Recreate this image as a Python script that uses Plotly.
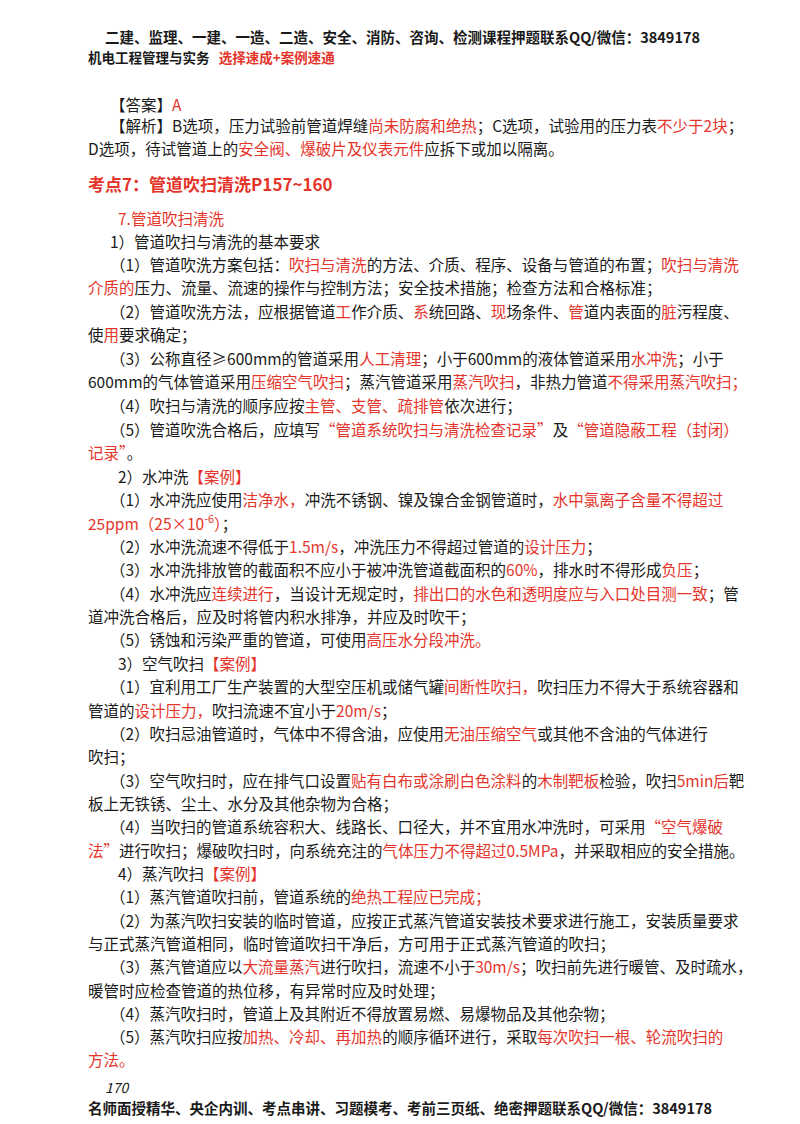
import plotly.graph_objects as go

RED = "#e5352b"
# text lines: (x, y, text, size, bold) ; segments between | are red
header_lines = [
    (95, 28, "二建、监理、一建、一造、二造、安全、消防、咨询、检测课程押题联系QQ/微信：3849178", 14.5, True),
    (78, 49, "机电工程管理与实务   |选择速成+案例速通|", 13.5, True),
]
body_lines = [
    (100, 96, "【答案】|A|", 15.5, False),
    (100, 117, "【解析】B选项，压力试验前管道焊缝|尚未防腐和绝热|；C选项，试验用的压力表|不少于2块|；", 15.5, False),
    (78, 140, "D选项，待试管道上的|安全阀、爆破片及仪表元件|应拆下或加以隔离。", 15.5, False),
    (78, 175, "|考点7：管道吹扫清洗P157~160|", 17, True),
    (108, 210, "|7.管道吹扫清洗|", 15.5, False),
    (100, 233, "1）管道吹扫与清洗的基本要求", 15.5, False),
    (100, 256, "（1）管道吹洗方案包括：|吹扫与清洗|的方法、介质、程序、设备与管道的布置；|吹扫与清洗|", 15.5, False),
    (78, 279, "|介质的|压力、流量、流速的操作与控制方法；安全技术措施；检查方法和合格标准；", 15.5, False),
    (100, 303, "（2）管道吹洗方法，应根据管道|工|作介质、|系|统回路、|现|场条件、|管|道内表面的|脏|污程度、", 15.5, False),
    (78, 326, "使|用|要求确定；", 15.5, False),
    (100, 350, "（3）公称直径≥600mm的管道采用|人工清理|；小于600mm的液体管道采用|水冲洗|；小于", 15.5, False),
    (78, 373, "600mm的气体管道采用|压缩空气吹扫|；蒸汽管道采用|蒸汽吹扫|，非热力管道|不得采用蒸汽吹扫；|", 15.5, False),
    (100, 397, "（4）吹扫与清洗的顺序应按|主管、支管、疏排管|依次进行；", 15.5, False),
    (100, 421, "（5）管道吹洗合格后，应填写|“管道系统吹扫与清洗检查记录”|及|“管道隐蔽工程（封闭）|", 15.5, False),
    (78, 444, "|记录”|。", 15.5, False),
    (108, 468, "2）水冲洗|【案例】|", 15.5, False),
    (100, 491, "（1）水冲洗应使用|洁净水，|冲洗不锈钢、镍及镍合金钢管道时，|水中氯离子含量不得超过|", 15.5, False),
    (78, 514, "|25ppm（25×10<sup>-6</sup>）|；", 15.5, False),
    (100, 538, "（2）水冲洗流速不得低于|1.5m/s|，冲洗压力不得超过管道的|设计压力|；", 15.5, False),
    (100, 561, "（3）水冲洗排放管的截面积不应小于被冲洗管道截面积的|60%|，排水时不得形成|负压|；", 15.5, False),
    (100, 585, "（4）水冲洗应|连续进行|，当设计无规定时，|排出口的水色和透明度应与入口处目测一致|；管", 15.5, False),
    (78, 608, "道冲洗合格后，应及时将管内积水排净，并应及时吹干；", 15.5, False),
    (100, 631, "（5）锈蚀和污染严重的管道，可使用|高压水分段冲洗。|", 15.5, False),
    (108, 655, "3）空气吹扫|【案例】|", 15.5, False),
    (100, 678, "（1）宜利用工厂生产装置的大型空压机或储气罐|间断性吹扫，|吹扫压力不得大于系统容器和", 15.5, False),
    (78, 702, "管道的|设计压力，|吹扫流速不宜小于|20m/s|；", 15.5, False),
    (100, 725, "（2）吹扫忌油管道时，气体中不得含油，应使用|无油压缩空气|或其他不含油的气体进行", 15.5, False),
    (78, 748, "吹扫；", 15.5, False),
    (100, 772, "（3）空气吹扫时，应在排气口设置|贴有白布或涂刷白色涂料|的|木制靶板|检验，吹扫|5min后|靶", 15.5, False),
    (78, 795, "板上无铁锈、尘土、水分及其他杂物为合格；", 15.5, False),
    (100, 818, "（4）当吹扫的管道系统容积大、线路长、口径大，并不宜用水冲洗时，可采用|“空气爆破|", 15.5, False),
    (78, 842, "|法”|进行吹扫；爆破吹扫时，向系统充注的|气体压力不得超过0.5MPa|，并采取相应的安全措施。", 15.5, False),
    (108, 865, "4）蒸汽吹扫|【案例】|", 15.5, False),
    (100, 888, "（1）蒸汽管道吹扫前，管道系统的|绝热工程应已完成；|", 15.5, False),
    (100, 912, "（2）为蒸汽吹扫安装的临时管道，应按正式蒸汽管道安装技术要求进行施工，安装质量要求", 15.5, False),
    (78, 935, "与正式蒸汽管道相同，临时管道吹扫干净后，方可用于正式蒸汽管道的吹扫；", 15.5, False),
    (100, 958, "（3）蒸汽管道应以|大流量蒸汽|进行吹扫，流速不小于|30m/s|；吹扫前先进行暖管、及时疏水，", 15.5, False),
    (78, 982, "暖管时应检查管道的热位移，有异常时应及时处理；", 15.5, False),
    (100, 1005, "（4）蒸汽吹扫时，管道上及其附近不得放置易燃、易爆物品及其他杂物；", 15.5, False),
    (100, 1028, "（5）蒸汽吹扫应按|加热、冷却、再加热|的顺序循环进行，采取|每次吹扫一根、轮流吹扫的|", 15.5, False),
    (78, 1051, "|方法。|", 15.5, False),
]
footer_lines = [
    (95, 1079, "<i>170</i>", 14, False),
    (78, 1099, "名师面授精华、央企内训、考点串讲、习题模考、考前三页纸、绝密押题联系QQ/微信：3849178", 14.5, True),
]

def markup(t):
    parts = t.split("|")
    out = ""
    for i, p in enumerate(parts):
        if not p:
            continue
        out += f"<span style='color:{RED}'>{p}</span>" if i % 2 else p
    return out

fig = go.Figure()
fig.add_trace(go.Scatter(x=[0, 800], y=[0, 1124], mode="markers", marker=dict(opacity=0), hoverinfo="skip"))
for x, y, t, s, b in header_lines + body_lines + footer_lines:
    txt = markup(t)
    if b:
        txt = "<b>" + txt + "</b>"
    fig.add_annotation(x=x, y=y, xref="x", yref="y", text=txt, showarrow=False,
                       xanchor="left", yanchor="middle",
                       font=dict(size=s, color="#1a1a1a", family="Noto Sans CJK SC"))
fig.update_layout(width=800, height=1124, margin=dict(l=0, r=0, t=0, b=0),
                  paper_bgcolor="white", plot_bgcolor="white", showlegend=False,
                  xaxis=dict(range=[0, 800], visible=False),
                  yaxis=dict(range=[1124, 0], visible=False))
fig.write_html("out.html")
